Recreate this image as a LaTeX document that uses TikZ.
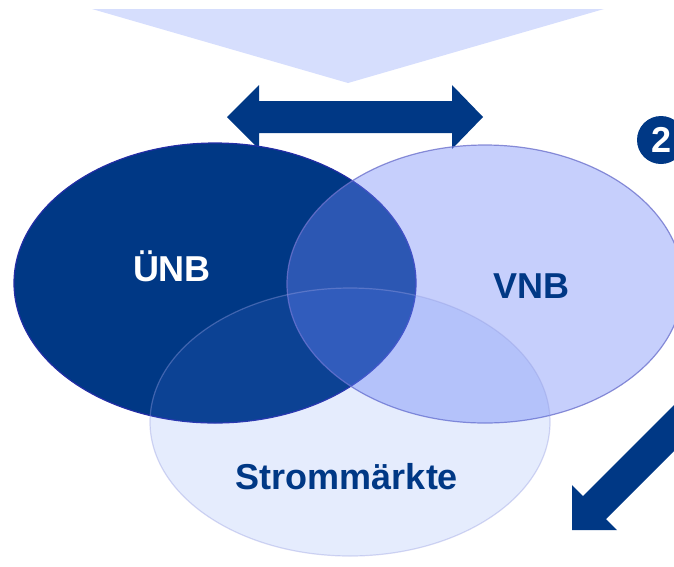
\documentclass[tikz,border=0pt]{standalone}
\usepackage{fontspec}
\setmainfont{Liberation Sans}
\definecolor{dkblue}{RGB}{0,56,133}
\definecolor{paleblue}{RGB}{214,222,253}
\definecolor{vnbblue}{RGB}{112,135,248}
\definecolor{smblue}{RGB}{82,125,240}
\definecolor{unbedge}{RGB}{35,45,165}
\definecolor{vnbedge}{RGB}{110,115,205}
\definecolor{smedge}{RGB}{150,158,225}
\begin{document}
\begin{tikzpicture}[x=1pt,y=-1pt,
        venn/.style={line width=1.2pt},
        lbl/.style={font=\fontsize{36}{40}\selectfont\bfseries, inner sep=0pt, anchor=base},
        ]
    \clip (0,0) rectangle (674,566);
    \fill [paleblue] (92,9) -- (604,9) -- (348,83) -- cycle;
    \fill [dkblue] (227,117) -- (259,85) -- (259,101) -- (452,101) -- (452,85) -- (483,117) --
            (452,149) -- (452,133) -- (259,133) -- (259,149) -- cycle;
    \fill [dkblue] (572,530) -- (572,485) -- (583,496) -- (783,296) -- (806,319) -- (606,519) --
            (617,530) -- cycle;
    \node [circle,fill=dkblue,text=white,minimum size=48pt,inner sep=0pt,
            font=\fontsize{36}{40}\selectfont\bfseries] (nr) at (661,140) {2};
    % kreise
    \filldraw [venn,fill=dkblue,draw=unbedge] (215,283) ellipse (201 and 140);
    \filldraw [venn,fill=vnbblue,fill opacity=0.4,draw=vnbedge,draw opacity=0.8] (485,284) ellipse (198 and 139);
    \filldraw [venn,fill=smblue,fill opacity=0.15,draw=smedge,draw opacity=0.4] (350,422) ellipse (200 and 134);
    \node [lbl,text=white] (unb) at (172,281) {ÜNB};
    \node [lbl,text=dkblue] (vnb) at (531,298) {VNB};
    \node [lbl,text=dkblue] (sm) at (347,489) {Strommärkte};
\end{tikzpicture}
\end{document}
